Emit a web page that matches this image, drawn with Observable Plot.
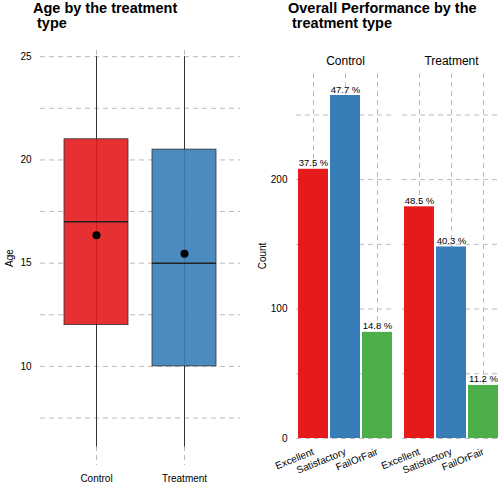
<!DOCTYPE html>
<html><head>
<script src="https://cdn.jsdelivr.net/npm/d3@7"></script>
<script src="https://cdn.jsdelivr.net/npm/@observablehq/plot@0.6"></script>
<style>
body{margin:0;background:#fff;font-family:"Liberation Sans",Arial,sans-serif}
#wrap{display:flex;width:504px;height:504px}
.panel{width:252px;position:relative}
.title{font-weight:bold;font-size:14.5px;line-height:15px;color:#000;position:absolute;top:1px;z-index:2}
</style>
</head><body>
<div id="wrap">
  <div class="panel" id="left"><div class="title" style="left:33px">Age by the treatment<br>&nbsp;type</div></div>
  <div class="panel" id="right"><div class="title" style="left:36px">Overall Performance by the<br>&nbsp;treatment type</div></div>
</div>
<script>
// boxplot summaries
const groups = ["Control", "Treatment"];
const lowWhisk = [6.1, 6.1];
const q1 = [12, 10];
const medians = [17, 15];
const q3 = [21, 20.5];
const highWhisk = [25, 25];
const means = [16.35, 15.45];
const boxColors = ["#E41A1C", "#377EB8"];

// performance counts
const levels = ["Excellent", "Satisfactory", "FailOrFair"];
const controlCounts = [208, 265, 82];
const treatmentCounts = [179, 148, 41];
const controlPct = ["37.5 %", "47.7 %", "14.8 %"];
const treatmentPct = ["48.5 %", "40.3 %", "11.2 %"];
const barColors = ["#E41A1C", "#377EB8", "#4DAF4A"];

const boxes = groups.map((g, i) => ({g, lo: lowWhisk[i], q1: q1[i], med: medians[i], q3: q3[i], hi: highWhisk[i], mean: means[i]}));
const perf = [];
levels.forEach((l, i) => perf.push({grp: "Control", level: l, n: controlCounts[i], pct: controlPct[i]}));
levels.forEach((l, i) => perf.push({grp: "Treatment", level: l, n: treatmentCounts[i], pct: treatmentPct[i]}));

const dash = {stroke: "#bbb", strokeDasharray: "5,4", strokeOpacity: 1};

const left = Plot.plot({
  width: 252, height: 480,
  marginTop: 45, marginLeft: 40, marginRight: 12, marginBottom: 20,
  style: {fontSize: "10px", fontFamily: "Liberation Sans, Arial"},
  x: {domain: groups, padding: 0.27, align: 0.5, label: null, tickSize: 0},
  y: {domain: [5.2, 25.3], label: "Age", labelAnchor: "center", labelArrow: "none", ticks: [10, 15, 20, 25], tickSize: 0, labelOffset: 35},
  marks: [
    Plot.gridY([7.5, 10, 12.5, 15, 17.5, 20, 22.5, 25], dash),
    Plot.gridX(groups, dash),
    Plot.ruleX(boxes, {x: "g", y1: "lo", y2: "hi", stroke: "#333"}),
    Plot.barY(boxes, {x: "g", y1: "q1", y2: "q3", fill: (d, i) => boxColors[i], fillOpacity: 0.9, stroke: "#333", strokeWidth: 0.8}),
    Plot.tickY(boxes, {x: "g", y: "med", stroke: "#222", strokeWidth: 1.5}),
    Plot.dot(boxes, {x: "g", y: "mean", r: 4, fill: "#000"})
  ]
});
document.getElementById("left").appendChild(left);
left.style.position = "absolute"; left.style.top = "5px";

const right = Plot.plot({
  width: 252, height: 450,
  marginTop: 45, marginLeft: 44, marginRight: 4, marginBottom: 40,
  style: {fontSize: "10px", fontFamily: "Liberation Sans, Arial"},
  fx: {domain: groups, label: null, axis: "top", padding: 0.08, tickSize: 0},
  x: {domain: levels, padding: 0.06, label: null, tickRotate: -22, tickSize: 0},
  y: {domain: [0, 282], label: "Count", labelAnchor: "center", labelArrow: "none", ticks: [0, 100, 200], tickSize: 0, labelOffset: 38},
  marks: [
    Plot.gridY([0, 50, 100, 150, 200, 250], dash),
    Plot.gridX(levels, dash),
    Plot.barY(perf, {fx: "grp", x: "level", y: "n", fill: d => barColors[levels.indexOf(d.level)]}),
    Plot.text(perf, {fx: "grp", x: "level", y: "n", text: "pct", dy: -6, fontSize: 9.5, fill: "#000"})
  ]
});
document.getElementById("right").appendChild(right);
right.style.position = "absolute"; right.style.top = "28px";
right.querySelectorAll("[aria-label='fx-axis tick label'] text").forEach(t => t.style.fontSize = "12px");
</script>
</body></html>
